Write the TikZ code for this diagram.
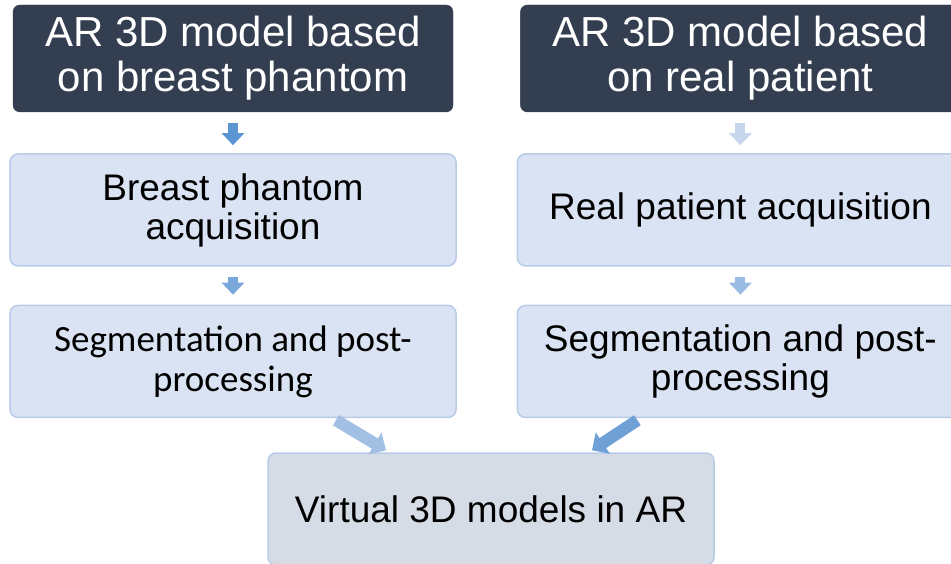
\documentclass[tikz,border=0pt]{standalone}
\usepackage{fontspec}
\setmainfont{Liberation Sans}
\newfontfamily\carlito{Carlito}
\usetikzlibrary{arrows.meta, positioning}
\definecolor{hdrDark}{HTML}{333F50}
\definecolor{stageFill}{HTML}{DAE3F3}
\definecolor{stageLine}{HTML}{B8CBE8}
\definecolor{resultFill}{HTML}{D6DCE5}
\definecolor{arrowA}{HTML}{5B96D3}
\definecolor{arrowB}{HTML}{7BA8DA}
\definecolor{arrowC}{HTML}{C6D6EC}
\definecolor{arrowD}{HTML}{9BBCE2}
\definecolor{arrowE}{HTML}{A2C0E4}
\definecolor{arrowF}{HTML}{6FA1D7}

\begin{document}
\begin{tikzpicture}[x=1pt, y=1pt,
    node distance=41pt and 67pt,
    header/.style={rectangle, rounded corners=7pt, fill=hdrDark, draw=hdrDark,
                 text=white, minimum width=440pt, minimum height=107pt,
                 font=\fontsize{42}{45}\selectfont, align=center, inner sep=0pt},
    stage/.style={rectangle, rounded corners=8pt, fill=stageFill, draw=stageLine,
                 line width=1.5pt, minimum width=446pt, minimum height=112pt,
                 font=\fontsize{37}{39}\selectfont, align=center, inner sep=0pt},
    result/.style={stage, fill=resultFill},
    flow/.style={line width=10pt, -{Triangle[length=12pt, width=22pt]}},
    slant/.style={line width=12pt, -{Triangle[length=13pt, width=25pt]}},
  ]
    \useasboundingbox (0,0) rectangle (951,-564);

    \node[header] (h1) at (233,-58.5) {AR 3D model based\\on breast phantom};
    \node[header, right=of h1] (h2) {AR 3D model based\\on real patient};

    \node[stage, below=of h1] (p1) {Breast phantom\\acquisition};
    \node[stage, below=of h2] (p2) {Real patient acquisition};

    \node[stage, below=38pt of p1, font=\carlito\fontsize{37}{40}\selectfont] (s1) {Segmentation and post-\\processing};
    \node[stage, below=38pt of p2] (s2) {Segmentation and post-\\processing};

    \node[result] (v) at (491,-509) {Virtual 3D models in AR};

    \draw[flow, draw=arrowA] ([yshift=-11pt]h1.south) -- ([yshift=8pt]p1.north);
    \draw[flow, draw=arrowC] ([yshift=-11pt]h2.south) -- ([yshift=8pt]p2.north);
    \draw[flow, draw=arrowB] ([yshift=-10pt]p1.south) -- ([yshift=10pt]s1.north);
    \draw[flow, draw=arrowD] ([yshift=-10pt]p2.south) -- ([yshift=10pt]s2.north);
    \draw[slant, draw=arrowE] ([xshift=103pt, yshift=-2pt]s1.south) -- ([xshift=-105pt, yshift=2pt]v.north);
    \draw[slant, draw=arrowF] ([xshift=-103pt, yshift=-2pt]s2.south) -- ([xshift=101pt, yshift=2pt]v.north);
  \end{tikzpicture}
\end{document}
